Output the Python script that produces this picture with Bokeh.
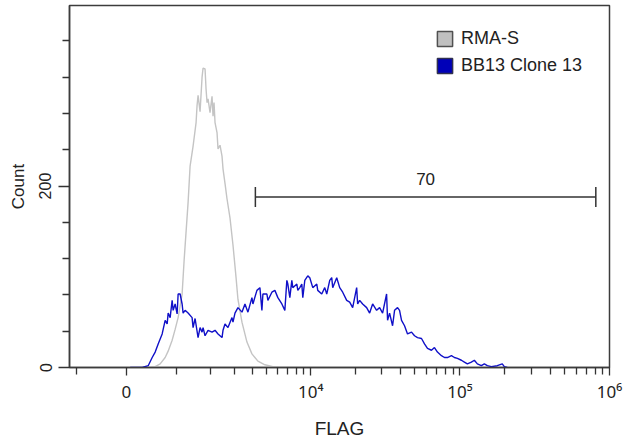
import numpy as np
from bokeh.plotting import figure
from bokeh.models import (Range1d, FixedTicker, Legend, LegendItem,
                          CustomJSTickFormatter)
from bokeh.core.properties import value
from bokeh.embed import file_html
from bokeh.resources import INLINE

# ---- display scale (logicle-like arcsinh) ----
CH_PER_UNIT = 65.1
COFACTOR = 1172.0


def chan(v):
    return CH_PER_UNIT * np.arcsinh(np.asarray(v, dtype=float) / COFACTOR)


# ---- data (display channel vs count) ----
series_names = ["RMA-S", "BB13 Clone 13"]

gray_channel = [14, 24, 29, 34, 39, 42, 46, 49, 52, 54,
                56, 58, 60, 62, 64, 67, 70, 71, 72, 74,
                76, 77, 79, 80, 81, 82, 84, 86, 87, 88,
                89, 91, 92, 94, 96, 97, 99, 101, 104, 107,
                110, 112, 116, 121, 126, 132, 139, 147, 154, 164]
gray_count = [0, 0, 1, 4, 11, 18, 30, 42, 55, 68,
              81, 118, 150, 182, 222, 244, 270, 289, 300, 282,
              320, 330, 329, 307, 292, 296, 281, 299, 277, 292,
              270, 259, 241, 245, 233, 219, 203, 186, 165, 135,
              100, 75, 50, 28, 15, 7, 3, 1, 0, 0]

blue_channel = [4, 16, 22, 26, 29, 32, 36, 39, 41, 42, 44, 46, 47, 49, 51, 52, 54,
                56, 57, 59, 62, 66, 67, 69, 72, 74, 76, 77, 79, 82, 86, 89, 92,
                96, 97, 99, 102, 106, 107, 109, 112, 116, 119, 122, 126, 127, 131,
                134, 136, 137, 141, 142, 146, 149, 152, 156, 159, 161, 162, 164,
                166, 167, 171, 172, 174, 176, 177, 179, 182, 184, 187, 191, 192,
                196, 199, 201, 204, 206, 207, 211, 214, 217, 221, 224, 227, 231,
                232, 234, 237, 241, 244, 247, 251, 254, 257, 261, 262, 264, 267,
                269, 272, 274, 276, 279, 282, 286, 289, 292, 296, 297, 299, 302,
                306, 309, 312, 316, 319, 322, 326, 329, 332, 336, 339, 342, 346,
                349, 352, 356, 359, 362, 366, 372, 377, 379, 382]
blue_count = [0, 0, 2, 11, 17, 26, 37, 52, 48, 60, 55, 74, 63, 70, 59, 81, 81,
              70, 60, 63, 60, 55, 44, 54, 33, 44, 39, 44, 35, 41, 39, 41, 37,
              33, 41, 48, 44, 55, 50, 60, 66, 61, 70, 61, 77, 70, 85,
              88, 63, 81, 81, 74, 83, 85, 77, 70, 63, 96, 92, 77,
              96, 88, 92, 85, 88, 92, 77, 96, 101, 99, 88, 92, 85,
              81, 88, 81, 96, 99, 88, 99, 88, 83, 74, 72, 66, 88,
              70, 74, 70, 66, 60, 70, 63, 66, 60, 81, 52, 60, 46,
              63, 66, 63, 52, 46, 37, 39, 35, 33, 32, 30, 26, 21,
              19, 22, 17, 13, 11, 11, 13, 11, 10, 8, 6, 4, 6,
              8, 4, 2, 4, 2, 1, 2, 4, 1, 0]

# ---- axes ----
x_major_values = [0, 1e4, 1e5, 1e6]
x_major_labels = ["0", "10\u2074", "10\u2075", "10\u2076"]
x_minor_values = ([-1000] + [k * 1000 for k in range(1, 10)]
                  + [k * 1e4 for k in range(2, 10)]
                  + [k * 1e5 for k in range(2, 10)])
x_min_value = -1160
y_major = [0, 200]
y_minor = [40, 80, 120, 160, 240, 280, 320, 360]
y_max = 399

# ---- gate ----
gate_low, gate_high = 4200, 8.1e5
gate_count = 188
gate_label = "70"

FONT = "Liberation Sans"
TXT = "#222222"
NAN = float("nan")

p = figure(width=626, height=442, output_backend="svg", toolbar_location=None,
           x_range=Range1d(float(chan(x_min_value)), float(chan(1e6))),
           y_range=Range1d(0, y_max),
           min_border_left=69, min_border_right=17, min_border_top=5,
           min_border_bottom=75)
p.grid.visible = False
p.outline_line_color = "#3c3c3c"
p.outline_line_width = 1.5
p.background_fill_color = "white"
p.border_fill_color = "white"

p.line(gray_channel, gray_count, line_color="#c4c4c4", line_width=1.4)
p.line(blue_channel, blue_count, line_color="#1010c8", line_width=1.4)

# gate
g0, g1 = float(chan(gate_low)), float(chan(gate_high))
cap = 11
p.segment(x0=[g0], y0=[gate_count], x1=[g1], y1=[gate_count],
          line_color="#333333", line_width=1.5)
p.segment(x0=[g0, g1], y0=[gate_count - cap] * 2, x1=[g0, g1],
          y1=[gate_count + cap] * 2, line_color="#333333", line_width=1.5)
p.text(x=[(g0 + g1) / 2], y=[gate_count], text=[gate_label],
       text_align="center", text_baseline="middle", y_offset=-18,
       text_font=value(FONT), text_font_size="17px", text_color=TXT)

# legend swatches (no visible data, only legend glyphs)
r1 = p.quad(left=[NAN], right=[NAN], top=[NAN], bottom=[NAN],
            fill_color="#c0c0c0", line_color="#505050", line_width=1.5)
r2 = p.quad(left=[NAN], right=[NAN], top=[NAN], bottom=[NAN],
            fill_color="#0000b8", line_color="#303050", line_width=1.5)
legend = Legend(items=[LegendItem(label=series_names[0], renderers=[r1]),
                       LegendItem(label=series_names[1], renderers=[r2])],
                location=(366, 291), padding=0, margin=0, spacing=6,
                glyph_width=19, glyph_height=19, label_height=19,
                label_standoff=7, label_text_font=FONT,
                label_text_font_size="18px", label_text_color=TXT,
                border_line_alpha=0, background_fill_alpha=0)
p.add_layout(legend)

# x axis
xa = p.xaxis[0]
xa.ticker = FixedTicker(ticks=[float(t) for t in chan(x_major_values)],
                        minor_ticks=[float(t) for t in chan(x_minor_values)])
xa.formatter = CustomJSTickFormatter(
    args=dict(pos=[float(t) for t in chan(x_major_values)], labels=x_major_labels),
    code="""
for (let i = 0; i < pos.length; i++) {
  if (Math.abs(tick - pos[i]) < 1e-3) return labels[i];
}
return "";
""")
xa.axis_label = "FLAG"
xa.axis_label_text_font = FONT
xa.axis_label_text_font_style = "normal"
xa.axis_label_text_font_size = "19px"
xa.axis_label_text_color = TXT
xa.axis_label_standoff = 12
xa.major_label_text_font = "Noto Sans"
xa.major_label_text_font_size = "17px"
xa.major_label_text_color = TXT
xa.major_label_standoff = 4
xa.major_tick_out = 8
xa.major_tick_in = 0
xa.minor_tick_out = 7
xa.minor_tick_in = 0
xa.axis_line_color = "#3c3c3c"
xa.axis_line_width = 1.5
xa.major_tick_line_color = "#333333"
xa.minor_tick_line_color = "#333333"
xa.major_tick_line_width = 1.3
xa.minor_tick_line_width = 1.3

# y axis
ya = p.yaxis[0]
ya.ticker = FixedTicker(ticks=y_major, minor_ticks=y_minor)
ya.axis_label = "Count"
ya.axis_label_text_font = FONT
ya.axis_label_text_font_style = "normal"
ya.axis_label_text_font_size = "17px"
ya.axis_label_text_color = TXT
ya.axis_label_standoff = 9
ya.major_label_orientation = "vertical"
ya.major_label_text_font = FONT
ya.major_label_text_font_size = "16px"
ya.major_label_text_color = TXT
ya.major_label_standoff = 7
ya.major_tick_out = 11
ya.major_tick_in = 0
ya.minor_tick_out = 7
ya.minor_tick_in = 0
ya.axis_line_color = "#3c3c3c"
ya.axis_line_width = 1.5
ya.major_tick_line_color = "#333333"
ya.minor_tick_line_color = "#333333"
ya.major_tick_line_width = 1.3
ya.minor_tick_line_width = 1.3

open("out.html", "w").write(file_html(p, INLINE))
